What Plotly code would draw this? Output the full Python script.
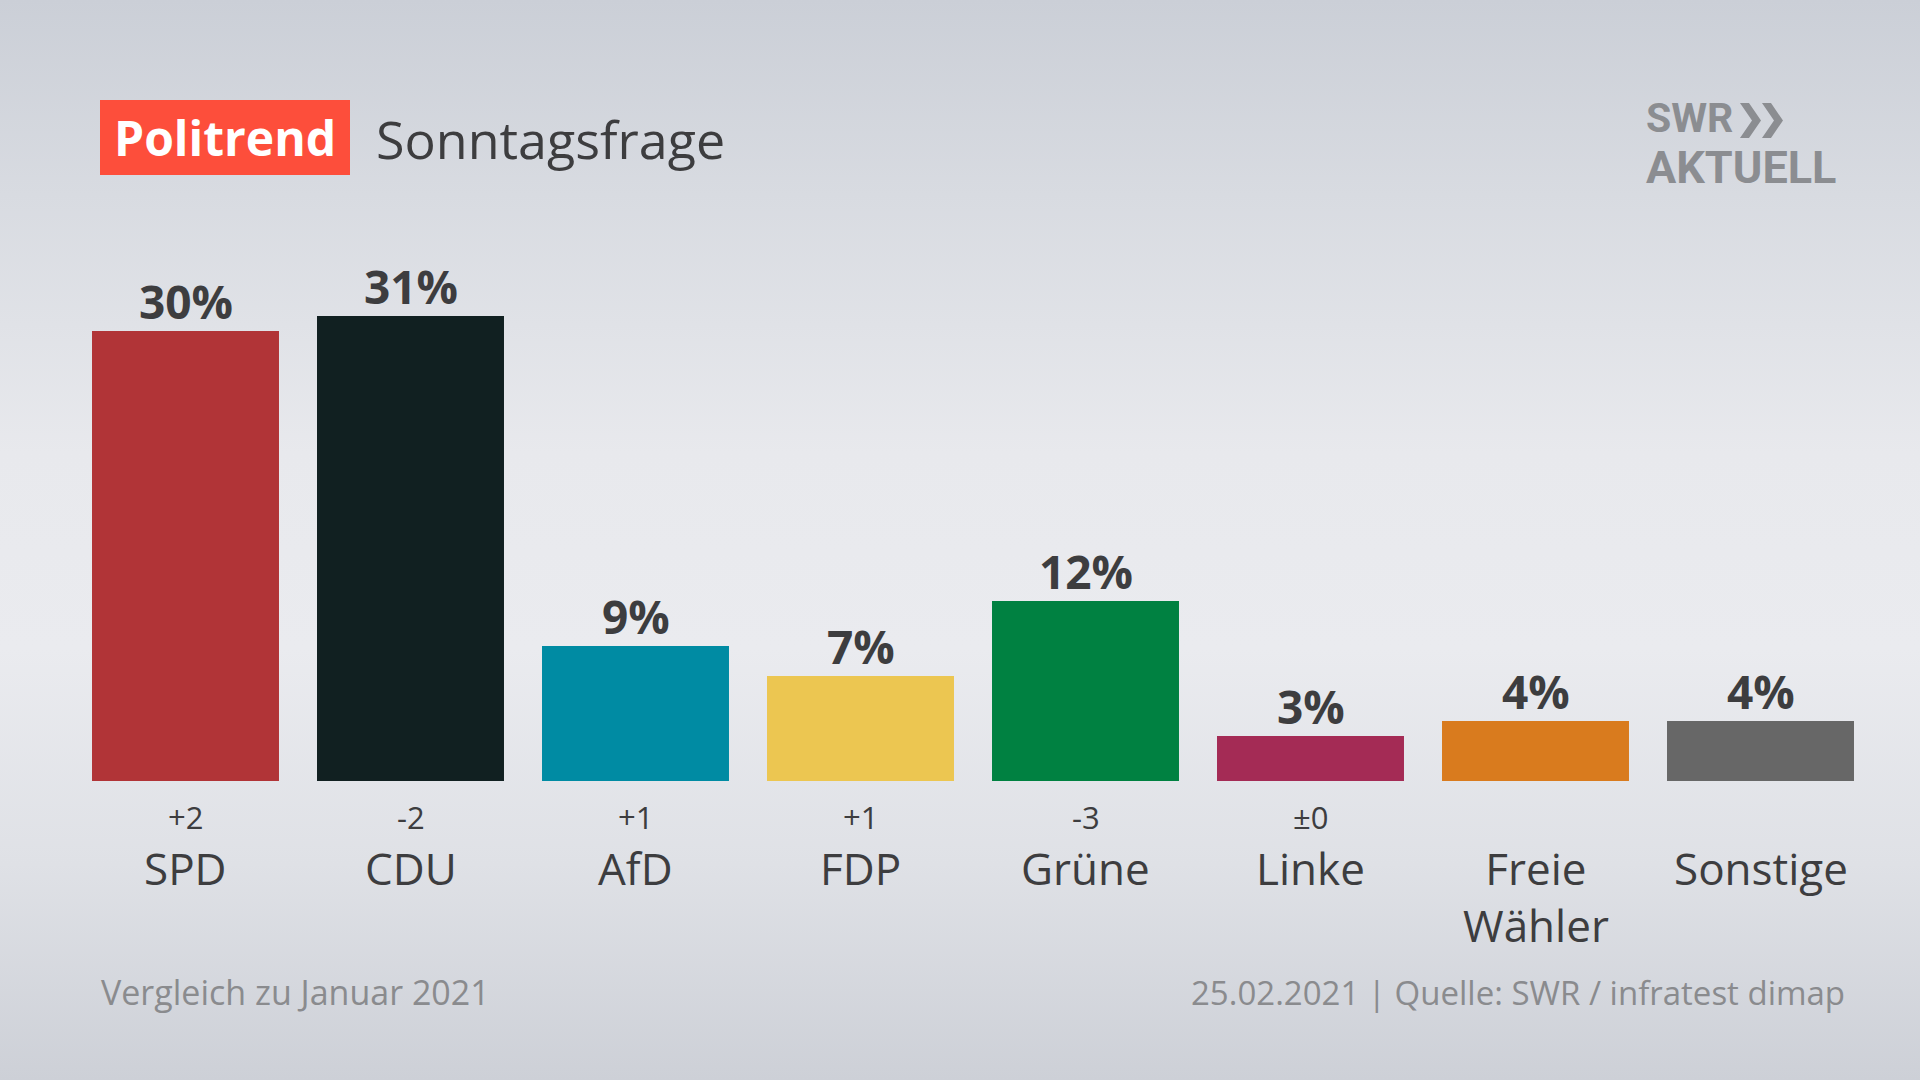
import base64
import plotly.graph_objects as go

# ---------------- data ----------------
parties = ["SPD", "CDU", "AfD", "FDP", "Grüne", "Linke", "Freie Wähler", "Sonstige"]
party_labels = ["SPD", "CDU", "AfD", "FDP", "Grüne", "Linke", "Freie<br>Wähler", "Sonstige"]
values = [30, 31, 9, 7, 12, 3, 4, 4]
changes = ["+2", "-2", "+1", "+1", "-3", "±0", "", ""]
bar_colors = ["#b13437", "#112021", "#008ba3", "#ecc651", "#008141", "#a42b55", "#d97b1e", "#676767"]

title_badge = "Politrend"
title_text = "Sonntagsfrage"
footer_left = "Vergleich zu Januar 2021"
footer_right = "25.02.2021 | Quelle: SWR / infratest dimap"

# ---------------- geometry ----------------
W, H = 1920, 1080
ML, MR, MT, MB = 73, 47, 181, 299
PW, PH = W - ML - MR, H - MT - MB
BOTTOM = H - MB


def px(x):
    return (x - ML) / PW


def py(y):
    return (BOTTOM - y) / PH


FONT = "Open Sans, Noto Sans, sans-serif"
LOGO_FONT = "Roboto, Liberation Sans Narrow, sans-serif"

fig = go.Figure()
fig.add_trace(go.Bar(
    x=parties, y=values, marker=dict(color=bar_colors, line=dict(width=0)),
    hoverinfo="skip", showlegend=False,
))

ann = []
# value labels
for p, v in zip(parties, values):
    ann.append(dict(x=p, y=v, xref="x", yref="y", text=f"<b>{v}%</b>", showarrow=False,
                    yanchor="bottom", xanchor="center", yshift=-3,
                    font=dict(family=FONT, size=46, color="#3d3d3f")))
# change labels
for p, c in zip(parties, changes):
    if c:
        ann.append(dict(x=p, y=0, xref="x", yref="y", text=c, showarrow=False,
                        yanchor="middle", xanchor="center", yshift=-36,
                        font=dict(family=FONT, size=31, color="#3d3d3f")))
# party names
for p, lab in zip(parties, party_labels):
    ann.append(dict(x=p, y=0, xref="x", yref="y", text=lab, showarrow=False,
                    yanchor="top", xanchor="center", yshift=-55,
                    font=dict(family=FONT, size=44, color="#3d3d3f")))

# title
ann.append(dict(x=px(225), y=py(137.5), xref="paper", yref="paper", text=f"<b>{title_badge}</b>",
                showarrow=False, xanchor="center", yanchor="middle",
                font=dict(family=FONT, size=48, color="#ffffff")))
ann.append(dict(x=px(374), y=py(139), xref="paper", yref="paper", text=title_text,
                showarrow=False, xanchor="left", yanchor="middle",
                font=dict(family=FONT, size=52, color="#3d3d3f")))
# logo text
ann.append(dict(x=px(1645), y=py(118), xref="paper", yref="paper", text="<b>SWR</b>",
                showarrow=False, xanchor="left", yanchor="middle", borderpad=0,
                font=dict(family=LOGO_FONT, size=41, color="#8b8d91")))
ann.append(dict(x=px(1645), y=py(168), xref="paper", yref="paper", text="<b>AKTUELL</b>",
                showarrow=False, xanchor="left", yanchor="middle", borderpad=0,
                font=dict(family=LOGO_FONT, size=45, color="#8b8d91")))
# footer
ann.append(dict(x=px(99), y=py(992), xref="paper", yref="paper", text=footer_left,
                showarrow=False, xanchor="left", yanchor="middle",
                font=dict(family=FONT, size=34, color="#8a8b8e")))
ann.append(dict(x=px(1847), y=py(992), xref="paper", yref="paper", text=footer_right,
                showarrow=False, xanchor="right", yanchor="middle",
                font=dict(family=FONT, size=33, color="#8a8b8e")))

shapes = [
    dict(type="rect", xref="paper", yref="paper", x0=px(100), x1=px(350), y0=py(175), y1=py(100),
         fillcolor="#fd4e3b", line=dict(width=0), layer="below"),
]
# logo chevrons
for x0 in (1740, 1762):
    pts = [(x0, 103), (x0 + 9, 103), (x0 + 21, 120.5), (x0 + 9, 138), (x0, 138), (x0 + 12, 120.5)]
    path = "M " + " L ".join(f"{px(a):.5f},{py(b):.5f}" for a, b in pts) + " Z"
    shapes.append(dict(type="path", xref="paper", yref="paper", path=path,
                       fillcolor="#8b8d91", line=dict(width=0)))

# background gradient as svg image
svg = f"""<svg xmlns='http://www.w3.org/2000/svg' width='{W}' height='{H}'>
<defs><linearGradient id='g' x1='0' y1='0' x2='0' y2='1'>
<stop offset='0' stop-color='#cbcfd7'/>
<stop offset='0.18' stop-color='#d8dbe1'/>
<stop offset='0.42' stop-color='#e8e9ed'/>
<stop offset='0.6' stop-color='#eaebef'/>
<stop offset='0.8' stop-color='#dfe1e6'/>
<stop offset='1' stop-color='#cdd0d7'/>
</linearGradient></defs>
<rect width='{W}' height='{H}' fill='url(#g)'/></svg>"""
src = "data:image/svg+xml;base64," + base64.b64encode(svg.encode()).decode()

fig.update_layout(
    width=W, height=H,
    margin=dict(l=ML, r=MR, t=MT, b=MB, pad=0),
    paper_bgcolor="#e3e5e9", plot_bgcolor="rgba(0,0,0,0)",
    bargap=0.169,
    xaxis=dict(visible=False, range=[-0.5, 7.5], fixedrange=True),
    yaxis=dict(visible=False, range=[0, 40], fixedrange=True),
    annotations=ann, shapes=shapes,
    images=[dict(source=src, xref="paper", yref="paper", x=px(0), y=py(0),
                 sizex=W / PW, sizey=H / PH, xanchor="left", yanchor="top",
                 sizing="stretch", layer="below")],
    showlegend=False,
)

fig.write_html("out.html", config={"displayModeBar": False},
               post_script="document.body.style.margin='0px';document.body.style.overflow='hidden';")
